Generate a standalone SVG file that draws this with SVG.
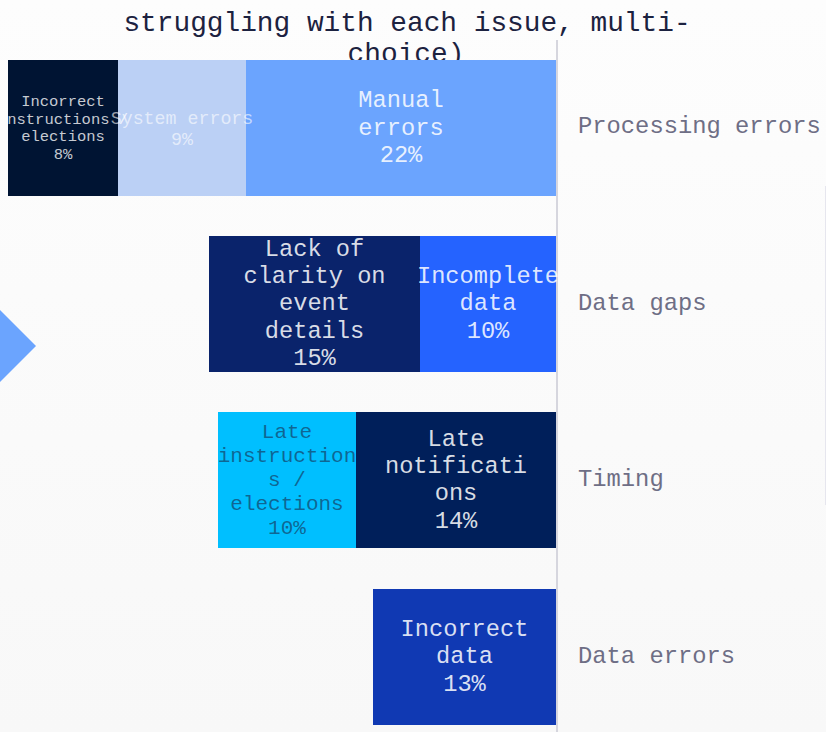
<svg xmlns="http://www.w3.org/2000/svg" width="826" height="732" viewBox="0 0 826 732">
  <defs>
    <linearGradient id="bg" x1="0" y1="0" x2="0" y2="1">
      <stop offset="0" stop-color="#fdfdfd"/>
      <stop offset="1" stop-color="#f8f8f8"/>
    </linearGradient>
    <clipPath id="chartClip"><rect x="8" y="0" width="818" height="732"/></clipPath>
  </defs>
  <style>
    text { font-family: "Liberation Mono", "DejaVu Sans Mono", monospace; text-anchor: middle; }
    .title { font-size: 27.8px; fill: #1c2240; }
    .lbl { font-size: 23.7px; fill: #ffffff; fill-opacity: 0.85; }
    .cat { font-size: 23.8px; fill: #6e6e85; text-anchor: start; }
  </style>
  <rect x="0" y="0" width="826" height="732" fill="url(#bg)"/>
  <polygon points="-8,302 36,346 -8,390 -52,346" fill="#6ba4fe"/>
  <line x1="825.5" y1="186" x2="825.5" y2="505" stroke="#e6e6ee" stroke-width="1"/>

  <g id="title">
    <text class="title" x="407" y="31">struggling with each issue, multi-</text>
    <text class="title" x="406" y="62">choice)</text>
  </g>

  <g id="connectors">
    <line x1="557" y1="40" x2="557" y2="732" stroke="#d6d6de" stroke-width="2"/>
  </g>

  <g id="incorrect-instructions">
    <rect x="8" y="60" width="110" height="136" fill="#001433"/>
  </g>
  <g id="system-errors">
    <rect x="118" y="60" width="128" height="136" fill="#bbd0f5"/>
  </g>
  <g id="manual-errors">
    <rect x="246" y="60" width="310" height="136" fill="#6ba4fe"/>
    <text class="lbl" x="401" y="107">Manual</text>
    <text class="lbl" x="401" y="134.5">errors</text>
    <text class="lbl" x="401" y="161.5">22%</text>
  </g>
  <g id="row1-labels" clip-path="url(#chartClip)">
    <g id="incorrect-instructions-label" style="font-size:15.5px" fill="#ffffff" fill-opacity="0.78">
      <text x="63" y="106">Incorrect</text>
      <text x="63" y="123.5">instructions /</text>
      <text x="63" y="141">elections</text>
      <text x="63" y="158.5">8%</text>
    </g>
    <g id="system-errors-label" style="font-size:18.3px" fill="#ffffff" fill-opacity="0.6">
      <text x="182" y="123.5">System errors</text>
      <text x="182" y="144.5">9%</text>
    </g>
  </g>

  <g id="lack-of-clarity">
    <rect x="209" y="236" width="211" height="136" fill="#0a236b"/>
    <text class="lbl" x="314.5" y="255.5">Lack of</text>
    <text class="lbl" x="314.5" y="283">clarity on</text>
    <text class="lbl" x="314.5" y="310">event</text>
    <text class="lbl" x="314.5" y="337.5">details</text>
    <text class="lbl" x="314.5" y="365">15%</text>
  </g>
  <g id="incomplete-data">
    <rect x="420" y="236" width="136" height="136" fill="#2563ff"/>
    <text class="lbl" x="488" y="283">Incomplete</text>
    <text class="lbl" x="488" y="310">data</text>
    <text class="lbl" x="488" y="337.5">10%</text>
  </g>

  <g id="late-notifications">
    <rect x="356" y="412" width="200" height="136" fill="#001f5a"/>
    <text class="lbl" x="456" y="445.5">Late</text>
    <text class="lbl" x="456" y="472.5">notificati</text>
    <text class="lbl" x="456" y="500">ons</text>
    <text class="lbl" x="456" y="527.5">14%</text>
  </g>
  <g id="late-instructions">
    <rect x="218" y="412" width="138" height="136" fill="#00bfff"/>
    <g style="font-size:21px" fill="#1a2a4a" fill-opacity="0.6">
      <text x="287" y="437.5">Late</text>
      <text x="287" y="461.5">instruction</text>
      <text x="287" y="485.5">s /</text>
      <text x="287" y="510">elections</text>
      <text x="287" y="534">10%</text>
    </g>
  </g>

  <g id="incorrect-data">
    <rect x="373" y="589" width="183" height="136" fill="#1039b3"/>
    <text class="lbl" x="464.5" y="636">Incorrect</text>
    <text class="lbl" x="464.5" y="663">data</text>
    <text class="lbl" x="464.5" y="690.5">13%</text>
  </g>

  <g id="categories">
    <text class="cat" x="578" y="133">Processing errors</text>
    <text class="cat" x="578" y="310">Data gaps</text>
    <text class="cat" x="578" y="486">Timing</text>
    <text class="cat" x="578" y="663">Data errors</text>
  </g>
</svg>
